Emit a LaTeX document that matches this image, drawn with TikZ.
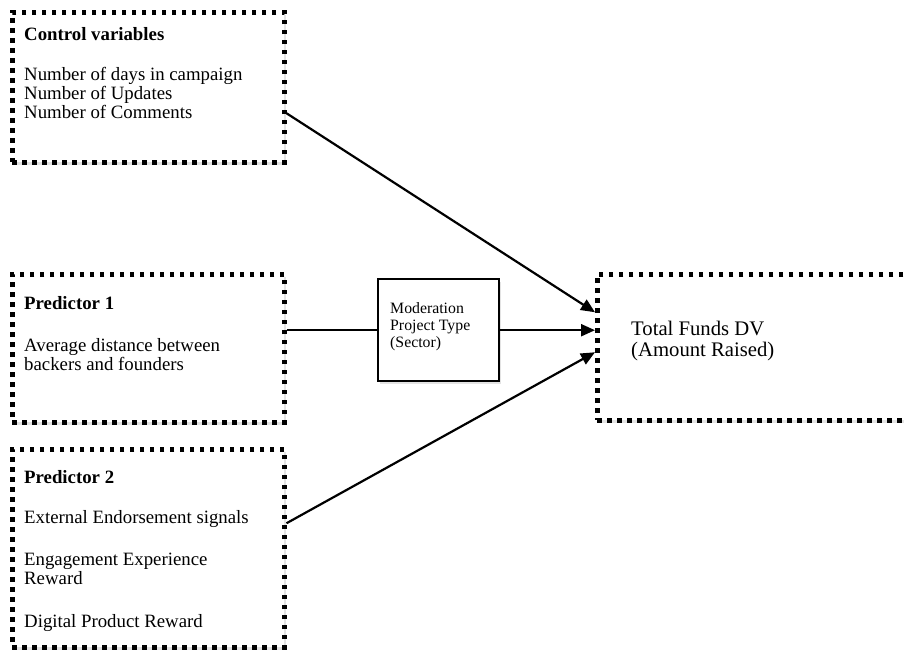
\documentclass[tikz,border=0pt]{standalone}
\usepackage{fontspec}
\setmainfont{Liberation Serif}
\usepackage{tikz}
\usetikzlibrary{positioning, arrows.meta, shadows}

\begin{document}
\begin{tikzpicture}[
    x=1pt, y=-1pt,
    dotbox/.style={rectangle, draw, line width=4.5pt, dash pattern=on 4.5pt off 5.5pt,
        fill=white, anchor=north west, inner sep=0pt,
        drop shadow={opacity=0.22, shadow xshift=2pt, shadow yshift=-3pt}},
    modbox/.style={rectangle, draw, line width=2.4pt, fill=white, anchor=north west,
        inner sep=0pt, minimum width=121pt, minimum height=102pt,
        drop shadow={opacity=0.22, shadow xshift=2pt, shadow yshift=-3pt}},
    boxtext/.style={align=left, inner sep=0pt, font=\fontsize{18.8}{19}\selectfont},
    link/.style={line width=2.2pt},
    arrow/.style={link, -{Triangle[length=14pt, width=12pt]}}
]

\clip (0,0) rectangle (904,649);

% Boxes
\node[dotbox, minimum width=272pt, minimum height=150pt] (control) at (10,10) {};
\node[dotbox, minimum width=272pt, minimum height=148pt] (pred1) at (10,272) {};
\node[dotbox, minimum width=272pt, minimum height=198pt] (pred2) at (10,447) {};
\node[modbox] (mod) at (377,278) {};
\node[dotbox, minimum width=400pt, minimum height=146pt] (dv) at (595,272) {};

% Texts
\node[boxtext, anchor=north west, below right=17pt and 14pt of control.north west] (controltxt)
    {\textbf{Control variables}\\[21pt]
     Number of days in campaign\\
     Number of Updates\\
     Number of Comments};
\node[boxtext, anchor=north west, below right=24pt and 14pt of pred1.north west] (pred1txt)
    {\textbf{Predictor 1}\\[23pt]
     Average distance between\\
     backers and founders};
\node[boxtext, anchor=north west, below right=23pt and 14pt of pred2.north west] (pred2txt)
    {\textbf{Predictor 2}\\[21pt]
     External Endorsement signals\\[23pt]
     Engagement Experience\\
     Reward\\[24pt]
     Digital Product Reward};
\node[align=left, inner sep=0pt, font=\fontsize{15.8}{17}\selectfont,
    below right=24pt and 13pt of mod.north west] (modtxt)
    {Moderation\\ Project Type\\ (Sector)};
\node[align=left, inner sep=0pt, font=\fontsize{20.7}{21}\selectfont,
    below right=49pt and 36pt of dv.north west] (dvtxt)
    {Total Funds DV\\ (Amount Raised)};

% Connectors
\draw[arrow] ([yshift=-26pt]control.east) -- ([yshift=35pt]dv.west);
\draw[link] (pred1.east |- mod.west) -- (mod.west);
\draw[arrow] (mod.east) -- (dv.west |- mod.east);
\draw[arrow] ([yshift=25pt]pred2.east) -- ([yshift=-5pt]dv.west);

\end{tikzpicture}
\end{document}
